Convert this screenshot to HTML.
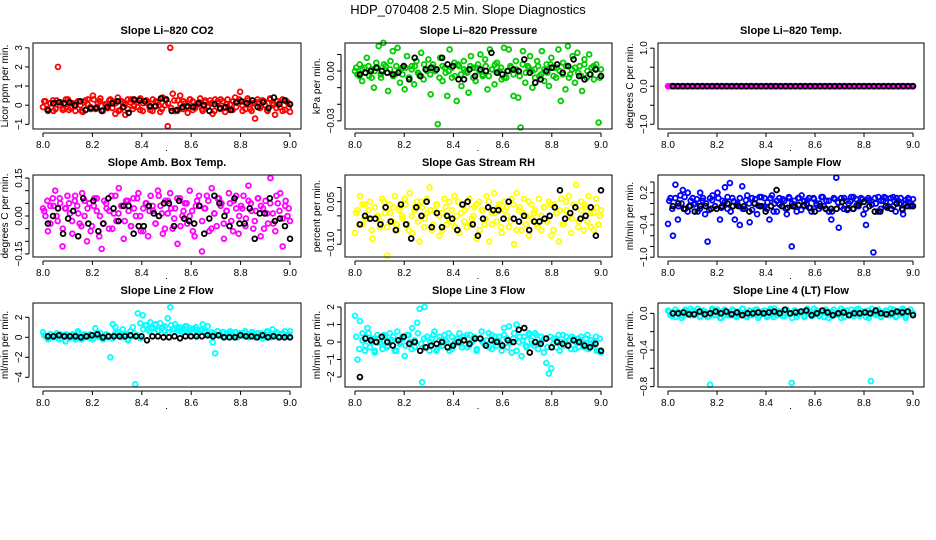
<!DOCTYPE html>
<html><head><meta charset="utf-8"><style>
html,body{margin:0;padding:0;background:#fff;}
svg{display:block;font-family:"Liberation Sans",sans-serif;}
</style></head><body>
<svg id="chart" width="936" height="540" viewBox="0 0 936 540">
<text x="468" y="14" text-anchor="middle" font-size="13">HDP_070408  2.5 Min. Slope Diagnostics</text>
</svg>
<script>
const xTicks=[8.0,8.2,8.4,8.6,8.8,9.0];
const co2Color=[-0.1,0.2,-0.3,0.1,0.25,-0.2,2.0,0.15,-0.25,0.05,0.3,-0.15,0.1,-0.3,0.2,0.0,-0.35,0.25,0.3,-0.1,0.5,-0.2,0.1,0.35,-0.3,0.05,-0.15,0.3,0.2,-0.45,0.4,-0.25,0.1,-0.5,0.3,0.15,-0.2,0.25,-0.1,0.35,-0.3,0.2,0.1,-0.25,0.3,-0.05,0.15,-0.35,0.4,0.0,-1.1,3.0,0.6,-0.3,0.25,0.5,-0.2,0.1,-0.4,0.3,0.2,-0.15,0.05,0.35,-0.3,0.15,-0.1,0.25,-0.45,0.3,0.1,-0.2,0.2,-0.35,0.3,0.05,-0.25,0.4,0.2,0.7,-0.3,0.15,0.35,-0.2,0.1,-0.7,0.3,-0.15,0.25,0.0,-0.3,0.35,0.1,-0.5,0.2,-0.1,0.3,-0.25,0.15,-0.35];
const co2Core=[0.2,-0.2,0.1,-0.3,0.25,0.0,-0.15,0.3,-0.25,0.1,-0.05,0.2,-0.3,0.15,0.05,-0.2,0.3,-0.1,0.2,-0.25,0.0,0.25,-0.15,0.1,-0.3,0.2,0.05,-0.2,0.3,-0.05,0.15,-0.25,0.1,0.25,-0.1,-0.3,0.2,0.0,-0.2,0.3,0.1,-0.15,0.25,-0.3,0.05,0.2,-0.1,0.3,-0.25,0.0,0.15,-0.2,0.25,-0.05,0.1,-0.3,0.2,0.3,-0.15,0.05,-0.25,0.2,-0.1,0.3,0.0,-0.2,0.25,-0.3,0.1,0.15,-0.05,0.2,-0.25,0.3,0.0,-0.15,0.1,-0.3,0.25,-0.1];
const co2Black=[-0.25,0.1,0.15,0.1,0.15,0.0,0.2,-0.25,-0.15,-0.15,-0.3,-0.1,0.1,0.2,-0.1,-0.4,0.3,0.25,0.2,-0.05,-0.05,0.35,0.3,-0.3,-0.25,-0.1,-0.05,-0.1,0.1,0.0,-0.3,0.05,-0.15,-0.1,-0.25,0.15,0.2,0.1,0.25,-0.1,0.15,-0.15,0.4,0.05,0.25,0.05];
const presColor=[0.0,-0.002,0.004,-0.006,0.002,0.008,-0.003,0.001,-0.01,0.005,0.015,-0.004,0.017,0.003,-0.012,0.006,0.012,-0.002,0.014,-0.007,0.002,-0.011,0.009,-0.004,0.003,-0.008,0.006,-0.002,0.011,-0.005,0.001,0.007,-0.014,0.004,0.0,-0.032,0.008,-0.006,0.002,-0.015,0.013,-0.004,0.005,-0.018,0.003,-0.009,0.006,0.0,-0.013,0.009,0.002,-0.006,0.004,0.01,-0.003,0.007,-0.011,0.013,0.001,-0.008,0.005,0.0,-0.005,0.014,-0.004,0.013,0.002,-0.015,0.006,-0.016,-0.034,0.012,-0.007,0.003,0.009,-0.01,0.001,0.006,-0.003,0.012,-0.006,0.004,-0.009,0.008,0.002,-0.004,0.013,-0.018,0.005,-0.011,0.015,-0.002,0.009,-0.007,0.011,0.003,-0.012,0.007,-0.004,0.01,0.002,-0.005,0.004,-0.031,0.001];
const presCore=[0.002,-0.003,0.001,-0.001,0.003,-0.004,0.0,0.002,-0.002,0.004,-0.001,0.001,-0.003,0.003,0.0,-0.002,0.002,-0.004,0.001,0.003,-0.001,-0.003,0.004,0.0,-0.002,0.002,0.001,-0.004,0.003,-0.001,0.0,0.002,-0.003,0.004,-0.002,0.001,-0.001,0.003,-0.004,0.002,0.0,-0.002,0.003,-0.003,0.001,0.004,-0.001,0.002,-0.004,0.0,0.003,-0.002,0.001,-0.003,0.004,-0.001,0.002,0.0,-0.004,0.003,-0.002,0.001,-0.001,0.004,-0.003,0.002,0.0,-0.002,0.003,-0.004,0.001,0.002,-0.001,-0.003,0.004,0.0,-0.002,0.003,0.001,-0.004];
const presBlack=[-0.002,-0.001,0.0,0.002,0.0,-0.001,-0.002,-0.001,0.003,-0.005,0.008,-0.003,0.001,0.002,0.001,0.008,0.004,0.003,-0.005,-0.005,0.001,-0.003,0.001,0.0,0.011,-0.001,-0.002,0.0,0.001,0.0,0.007,-0.001,-0.007,-0.005,0.0,0.002,0.004,-0.001,0.003,0.007,-0.003,-0.005,-0.002,0.001,-0.003];
const tempColor=[0,0,0,0,0,0,0,0,0,0,0,0,0,0,0,0,0,0,0,0,0,0,0,0,0,0,0,0,0,0,0,0,0,0,0,0,0,0,0,0,0,0,0,0,0,0,0,0,0,0,0,0,0,0,0,0,0,0,0,0,0,0,0,0,0,0,0,0,0,0,0,0,0,0,0,0,0,0,0,0,0,0,0,0,0,0,0,0,0,0,0,0,0,0,0,0,0,0,0,0];
const tempCore=[0,0,0,0,0,0,0,0,0,0,0,0,0,0,0,0,0,0,0,0,0,0,0,0,0,0,0,0,0,0,0,0,0,0,0,0,0,0,0,0,0,0,0,0,0,0,0,0,0,0,0,0,0,0,0,0,0,0,0,0,0,0,0,0,0,0,0,0,0,0,0,0,0,0,0,0,0,0,0,0];
const tempBlack=[0,0,0,0,0,0,0,0,0,0,0,0,0,0,0,0,0,0,0,0,0,0,0,0,0,0,0,0,0,0,0,0,0,0,0,0,0,0,0,0,0,0,0,0,0,0,0,0,0,0];
const ambColor=[0.03,0.0,-0.06,0.04,0.07,0.1,-0.02,0.05,-0.12,0.03,0.08,0.01,-0.07,0.06,0.04,-0.03,0.09,0.0,-0.1,0.05,-0.04,0.07,0.02,-0.08,-0.13,0.06,0.03,-0.05,0.08,0.01,-0.02,0.11,0.04,-0.09,0.06,0.02,-0.04,0.07,0.0,0.09,-0.06,0.03,0.05,-0.08,0.08,0.02,-0.03,0.1,0.04,-0.07,0.06,0.01,0.09,-0.05,0.03,-0.11,0.07,0.0,0.05,-0.03,0.1,0.02,-0.08,0.06,0.04,-0.14,0.03,0.08,-0.06,0.11,0.01,-0.04,0.07,0.05,-0.09,0.02,0.09,-0.02,0.06,0.03,-0.07,0.04,0.08,-0.01,0.12,0.05,-0.05,0.02,0.07,-0.08,0.03,0.06,-0.03,0.15,0.01,-0.06,0.05,0.09,-0.12,0.04,0.0,-0.02];
const ambCore=[0.02,0.06,-0.03,0.04,0.0,0.07,-0.05,0.03,0.05,-0.02,0.08,0.01,-0.04,0.06,0.03,-0.06,0.04,0.07,0.0,-0.03,0.05,0.02,-0.05,0.08,0.01,0.04,-0.02,0.06,-0.04,0.03,0.07,0.0,-0.06,0.05,0.02,0.04,-0.03,0.08,0.01,-0.05,0.06,0.03,-0.01,0.07,-0.04,0.02,0.05,0.0,-0.06,0.04,0.08,-0.02,0.03,0.06,-0.05,0.01,0.07,0.04,-0.03,0.02,0.05,-0.06,0.08,0.0,0.03,-0.04,0.06,0.02,-0.02,0.07,0.04,-0.05,0.01,0.05,-0.03,0.08,0.02,-0.01,0.06,0.03];
const ambBlack=[-0.03,0.0,0.03,-0.07,-0.01,0.02,-0.08,0.07,-0.03,0.06,-0.06,-0.03,0.07,0.03,-0.02,0.04,0.04,-0.07,-0.04,-0.04,0.04,0.01,0.0,0.05,0.05,-0.04,0.06,-0.01,-0.02,-0.03,0.04,-0.07,-0.01,0.08,0.05,0.0,-0.04,0.07,-0.03,-0.03,0.03,-0.09,0.01,0.01,0.07,-0.02,-0.01,-0.04,-0.09];
const rhColor=[-0.06,0.02,0.07,-0.03,0.04,-0.01,0.05,-0.08,0.03,0.0,-0.04,0.06,0.01,-0.14,0.04,-0.02,0.07,-0.05,0.03,0.0,0.06,-0.03,0.08,-0.06,0.02,0.05,-0.09,0.03,-0.01,0.06,0.1,-0.05,0.02,0.04,-0.07,0.01,0.06,-0.03,0.05,-0.02,0.07,0.0,-0.06,0.04,0.02,-0.04,0.06,-0.01,0.03,-0.08,0.05,0.02,-0.03,0.07,-0.09,0.01,0.08,-0.02,0.04,-0.06,0.05,0.03,-0.04,0.06,-0.1,0.08,0.02,-0.05,0.06,0.0,-0.07,0.04,0.01,-0.03,0.06,-0.05,0.03,-0.02,0.05,-0.07,0.04,0.01,-0.09,0.06,-0.03,0.02,0.07,-0.06,0.04,0.11,-0.02,0.05,-0.05,0.03,0.07,-0.04,0.01,0.06,-0.03,0.02];
const rhCore=[0.01,-0.03,0.04,-0.01,0.02,-0.05,0.03,0.0,-0.02,0.05,-0.04,0.01,0.03,-0.03,0.02,-0.01,0.04,-0.05,0.0,0.03,-0.02,0.05,-0.04,0.01,0.02,-0.03,0.04,0.0,-0.05,0.03,-0.01,0.02,-0.04,0.05,0.01,-0.02,0.03,-0.03,0.0,0.04,-0.05,0.02,-0.01,0.05,-0.03,0.01,0.03,-0.04,0.02,0.0,-0.02,0.04,-0.05,0.03,0.01,-0.03,0.05,-0.01,0.02,-0.04,0.0,0.03,-0.02,0.04,-0.05,0.01,0.02,-0.03,0.05,0.0,-0.01,0.03,-0.04,0.02,0.04,-0.02,0.01,-0.05,0.03,0.0];
const rhBlack=[-0.03,0.0,-0.01,-0.01,-0.03,0.03,-0.02,-0.05,0.04,-0.03,-0.08,0.03,0.0,0.05,-0.04,0.01,-0.04,0.0,-0.01,-0.05,0.04,0.05,-0.03,-0.07,-0.01,0.03,0.02,0.02,-0.01,0.05,-0.01,-0.02,0.0,-0.05,-0.02,-0.02,-0.01,0.0,0.03,0.09,-0.01,0.01,0.03,-0.01,0.0,0.03,-0.07,0.09];
const flowColor=[-0.38,0.1,-0.6,0.35,-0.3,0.15,0.25,-0.1,0.2,-0.05,0.1,0.0,-0.15,0.2,0.05,-0.2,-0.71,0.1,0.15,-0.05,0.2,-0.3,0.05,0.3,-0.1,0.38,0.1,-0.3,0.0,-0.4,0.32,-0.1,0.15,-0.35,0.1,0.0,-0.2,0.12,-0.05,0.1,-0.1,-0.3,0.15,0.0,-0.15,0.1,-0.05,0.05,-0.2,0.1,-0.8,0.05,-0.15,0.1,0.15,-0.05,0.0,0.1,-0.15,0.08,0.0,-0.1,0.12,-0.05,0.05,-0.15,-0.3,0.1,0.48,-0.45,0.1,-0.1,0.05,0.0,0.12,-0.1,0.08,-0.05,0.1,-0.2,-0.4,0.1,0.05,-0.91,0.0,0.12,-0.1,0.05,0.1,-0.05,0.1,0.12,-0.15,0.05,0.1,-0.2,0.0,0.1,-0.05,0.08];
const flowCore=[0.05,-0.1,0.1,-0.05,0.0,0.12,-0.15,0.05,-0.02,0.08,-0.1,0.1,0.0,-0.12,0.06,-0.05,0.1,-0.08,0.02,0.12,-0.15,0.04,-0.03,0.1,-0.1,0.06,0.0,-0.12,0.08,-0.04,0.12,-0.06,0.02,0.1,-0.15,0.05,-0.02,0.08,-0.1,0.12,0.0,-0.06,0.1,-0.12,0.04,0.06,-0.08,0.1,-0.03,0.0,0.12,-0.1,0.05,-0.15,0.08,0.02,-0.06,0.1,-0.12,0.04,0.12,-0.04,0.0,0.08,-0.1,0.06,-0.02,0.1,-0.15,0.05,0.12,-0.08,0.02,-0.05,0.1,0.0,-0.12,0.06,0.08,-0.03];
const flowBlack=[-0.05,0.0,-0.1,-0.05,-0.15,-0.05,-0.05,-0.1,-0.1,-0.05,0.0,-0.05,-0.05,-0.05,-0.15,0.0,-0.05,-0.15,-0.05,0.25,-0.05,-0.08,-0.05,-0.03,-0.03,-0.08,-0.15,-0.05,-0.1,-0.1,-0.1,0.03,-0.1,-0.1,-0.03,0.03,-0.05,-0.15,-0.15,-0.05,-0.1,0.0,-0.1,-0.05,-0.05];
const line2Color=[0.5,0.1,-0.2,0.3,0.0,0.2,-0.1,0.3,0.1,-0.4,0.2,0.0,0.3,-0.2,0.6,0.1,-0.1,0.2,0.0,0.3,-0.2,0.9,0.1,0.4,-0.1,0.2,0.0,-2.0,1.3,1.0,0.5,0.2,0.8,0.3,-0.3,0.6,1.0,-4.7,2.4,1.4,2.2,1.2,0.8,1.5,0.9,1.2,0.7,1.4,1.0,0.6,1.9,3.0,0.8,1.3,0.7,1.0,0.5,1.1,0.6,0.9,0.4,0.8,0.3,0.7,1.3,0.5,1.1,0.2,-0.5,-1.6,0.6,0.3,0.5,0.1,0.4,0.6,0.2,0.5,0.0,0.4,0.2,0.6,0.1,0.3,0.5,0.0,0.4,0.2,-0.1,0.3,0.5,0.1,0.8,0.2,0.4,0.0,0.3,0.6,0.1,0.6];
const line2Core=[0.2,-0.1,0.3,0.0,0.4,-0.2,0.1,0.3,-0.1,0.2,0.0,0.4,-0.2,0.3,0.1,-0.1,0.2,0.4,0.0,-0.2,0.3,0.1,-0.1,0.4,0.2,0.0,0.3,-0.2,0.1,0.4,0.2,-0.1,0.8,1.2,0.6,1.0,1.3,0.7,0.9,1.1,0.5,1.2,0.8,1.0,0.6,0.9,1.1,0.7,0.8,1.0,0.5,0.7,0.6,0.3,0.5,0.4,0.6,0.2,0.5,0.3,0.4,0.1,0.5,0.3,0.2,0.4,0.0,0.5,0.3,0.1,0.4,0.2,0.6,0.0,0.3,0.5,0.1,0.4,0.2,0.3];
const line2Black=[0.1,0.1,0.2,0.1,0.1,0.1,0.0,0.1,0.2,0.3,0.0,0.1,0.1,0.1,0.1,0.2,0.1,0.1,-0.3,0.1,0.1,0.0,0.0,0.1,-0.1,0.1,0.1,0.1,0.1,0.2,0.1,0.2,0.0,0.0,0.0,0.2,0.1,0.1,0.0,0.2,0.0,0.1,0.0,0.0,0.0];
const line3Color=[1.5,-1.0,1.2,0.5,-0.5,0.8,-0.3,0.2,-0.6,0.4,0.0,-0.4,0.3,-0.2,0.5,0.1,-0.5,0.6,-0.1,0.3,-0.8,0.4,0.0,0.8,-0.3,1.1,1.9,-2.3,2.0,0.3,-0.5,0.2,0.6,-0.4,0.1,-0.2,0.4,0.0,-0.5,0.3,-0.1,0.2,0.5,-0.3,0.1,0.4,-0.2,0.0,0.3,-0.4,0.2,0.6,-0.1,0.1,-0.3,0.4,0.0,-0.2,0.3,-0.5,0.8,0.2,0.9,-0.6,0.5,1.0,0.0,-0.8,0.3,-0.3,0.5,0.1,-0.2,0.4,-0.1,0.3,-0.6,-1.2,-1.8,-1.5,0.2,-0.3,0.4,0.0,-0.2,0.3,0.1,-0.4,0.2,0.0,-0.3,0.3,-0.1,0.2,-0.4,0.1,-0.2,0.3,-0.5,-0.6];
const line3Core=[0.3,-0.4,0.1,-0.2,0.5,0.0,-0.5,0.2,-0.1,0.4,-0.3,0.1,0.3,-0.5,0.0,0.2,-0.2,0.4,-0.4,0.1,0.5,-0.1,0.2,-0.3,0.0,0.4,-0.5,0.3,-0.2,0.1,0.5,-0.4,0.0,0.2,-0.1,0.3,-0.3,0.4,0.1,-0.5,0.2,0.0,-0.2,0.5,-0.4,0.3,0.1,-0.1,0.4,-0.3,0.0,0.2,-0.5,0.3,0.1,-0.2,0.4,-0.1,0.5,-0.4,0.0,0.2,-0.3,0.3,-0.1,0.1,-0.5,0.4,0.0,-0.2,0.3,-0.4,0.2,0.1,-0.3,0.4,-0.1,0.0,-0.5,0.2];
const line3Black=[-2.0,0.2,0.1,0.0,0.3,0.0,-0.2,0.1,0.3,-0.1,0.0,-0.5,-0.3,-0.2,-0.1,0.0,-0.3,-0.2,0.0,0.1,-0.1,0.2,0.2,-0.2,0.1,0.0,-0.2,0.1,0.0,0.7,0.8,-0.6,0.0,-0.1,0.2,-0.3,0.0,-0.1,-0.2,0.1,0.0,-0.2,-0.3,-0.1,-0.5];
const line4Color=[0.03,-0.02,0.01,-0.04,0.02,0.0,-0.03,0.04,0.01,-0.02,0.03,-0.01,0.05,-0.03,0.0,0.02,-0.04,-0.78,0.03,-0.02,0.04,-0.05,0.01,0.03,-0.02,0.0,0.04,-0.03,0.02,-0.01,0.05,0.0,-0.04,0.03,-0.02,0.01,0.04,-0.03,0.02,0.0,-0.04,0.03,-0.01,0.05,-0.02,0.02,0.0,-0.03,0.04,-0.01,-0.76,0.03,-0.04,0.01,0.02,-0.02,0.04,0.0,-0.03,0.05,0.01,-0.02,0.03,-0.04,0.02,0.0,-0.03,0.04,-0.01,0.02,-0.05,0.03,0.0,-0.02,0.04,-0.03,0.01,0.05,-0.01,0.02,-0.04,0.03,-0.74,0.0,-0.02,0.04,-0.03,0.01,0.03,-0.02,0.05,0.0,-0.04,0.02,-0.01,0.03,-0.03,0.01,0.04,0.0];
const line4Core=[0.02,-0.03,0.04,0.0,-0.05,0.03,-0.01,0.05,-0.02,0.01,-0.04,0.03,0.0,-0.03,0.05,-0.01,0.02,-0.05,0.04,0.0,-0.02,0.03,-0.04,0.01,0.05,-0.03,0.02,-0.01,0.04,-0.05,0.0,0.03,-0.02,0.05,-0.04,0.01,0.02,-0.03,0.04,0.0,-0.05,0.03,-0.01,0.02,-0.04,0.05,0.0,-0.02,0.03,-0.03,0.01,0.04,-0.05,0.02,0.0,-0.01,0.05,-0.04,0.03,-0.02,0.01,0.04,-0.03,0.0,0.02,-0.05,0.05,-0.01,0.03,-0.04,0.0,0.02,-0.02,0.04,-0.03,0.01,0.05,-0.05,0.02,0.0];
const line4Black=[0.0,0.0,0.01,-0.01,-0.01,0.02,-0.01,0.0,0.02,0.0,0.02,-0.01,0.01,-0.02,0.0,0.0,0.01,0.0,0.01,0.02,0.0,0.04,0.0,0.01,0.02,0.03,-0.02,0.0,0.03,0.01,-0.02,0.0,0.01,-0.02,0.0,0.0,0.01,0.0,0.03,0.0,-0.01,0.0,0.02,0.01,0.02,-0.02];

const panels=[
 {name:'co2',title:'Slope Li\u2013820 CO2',ylab:'Licor ppm per min.',col:'#ff0000',c:co2Color,cc:co2Core,b:co2Black,ylim:[-1.245,3.25],ticks:[-1,0,1,2,3],labels:['\u22121','0','1','2','3'],r:0,k:0},
 {name:'pressure',title:'Slope Li\u2013820 Pressure',ylab:'kPa per min.',col:'#00cc00',c:presColor,cc:presCore,b:presBlack,ylim:[-0.0349,0.0169],ticks:[-0.03,-0.02,-0.01,0,0.01],labels:['\u22120.03','','','0.00',''],r:0,k:1},
 {name:'li820-temp',title:'Slope Li\u2013820 Temp.',ylab:'degrees C per min.',col:'#ff00ff',c:tempColor,cc:tempCore,b:tempBlack,ylim:[-1.124,1.136],ticks:[-1,-0.5,0,0.5,1],labels:['\u22121.0','','0.0','','1.0'],r:0,k:2},
 {name:'amb-box-temp',title:'Slope Amb. Box Temp.',ylab:'degrees C per min.',col:'#ff00ff',c:ambColor,cc:ambCore,b:ambBlack,ylim:[-0.162,0.162],ticks:[-0.15,-0.1,-0.05,0,0.05,0.1,0.15],labels:['\u22120.15','','','0.00','','','0.15'],r:1,k:0},
 {name:'gas-stream-rh',title:'Slope Gas Stream RH',ylab:'percent per min.',col:'#ffff00',c:rhColor,cc:rhCore,b:rhBlack,ylim:[-0.145,0.144],ticks:[-0.1,-0.05,0,0.05,0.1],labels:['\u22120.10','','','0.05',''],r:1,k:1},
 {name:'sample-flow',title:'Slope Sample Flow',ylab:'ml/min per min.',col:'#0000ff',c:flowColor,cc:flowCore,b:flowBlack,ylim:[-0.996,0.53],ticks:[-1,-0.8,-0.6,-0.4,-0.2,0,0.2,0.4],labels:['\u22121.0','','','\u22120.4','','','0.2',''],r:1,k:2},
 {name:'line2-flow',title:'Slope Line 2 Flow',ylab:'ml/min per min.',col:'#00ffff',c:line2Color,cc:line2Core,b:line2Black,ylim:[-4.97,3.43],ticks:[-4,-2,0,2],labels:['\u22124','\u22122','0','2'],r:2,k:0},
 {name:'line3-flow',title:'Slope Line 3 Flow',ylab:'ml/min per min.',col:'#00ffff',c:line3Color,cc:line3Core,b:line3Black,ylim:[-2.57,2.23],ticks:[-2,-1,0,1,2],labels:['\u22122','\u22121','0','1','2'],r:2,k:1},
 {name:'line4-flow',title:'Slope Line 4 (LT) Flow',ylab:'ml/min per min.',col:'#00ffff',c:line4Color,cc:line4Core,b:line4Black,ylim:[-0.804,0.113],ticks:[-0.8,-0.6,-0.4,-0.2,0],labels:['\u22120.8','','\u22120.4','','0.0'],r:2,k:2}
];
const NS='http://www.w3.org/2000/svg';
const svg=document.getElementById('chart');
const colL=[33,345,658], colR=[301,612,924];
const rowT=[43,175,303], rowB=[129,257,387];
function mk(tag,attrs,parent){const e=document.createElementNS(NS,tag);for(const k in attrs)e.setAttribute(k,attrs[k]);parent.appendChild(e);return e;}
panels.forEach(p=>{
  const L=colL[p.k],R=colR[p.k],T=rowT[p.r],B=rowB[p.r];
  const x0=L+10,x1=R-11;
  const xs=v=>x0+(v-8)*(x1-x0);
  const ys=v=>B-(v-p.ylim[0])/(p.ylim[1]-p.ylim[0])*(B-T);
  const g=mk('g',{},svg);
  
  
  const t=mk('text',{x:(L+R)/2,y:T-9,'text-anchor':'middle','font-size':11,'font-weight':'bold'},g);
  t.textContent=p.title;
  
  
  const pts=mk('g',{fill:'none','stroke-width':1.8},g);
  
  
  const nc=p.cc.length;
  p.cc.forEach((v,i)=>{
    const c=mk('circle',{cx:xs(8.005+0.99*i/(nc-1)),cy:ys(v),r:2.4,stroke:p.col},pts);
    
    
  });
  const n=p.c.length;
  p.c.forEach((v,i)=>{
    const c=mk('circle',{cx:xs(8+i/(n-1)),cy:ys(v),r:2.4,stroke:p.col},pts);
    
    
  });
  const m=p.b.length;
  p.b.forEach((v,i)=>{
    const c=mk('circle',{cx:xs(8.02+0.98*i/(m-1)),cy:ys(v),r:2.4,stroke:'#000'},pts);
    
    
  });
  const box=mk('rect',{x:L,y:T,width:R-L,height:B-T,fill:'none',stroke:'#000','stroke-width':1},g);
  
  
  const xa=mk('g',{stroke:'#000','stroke-width':1},g);
  
  
  mk('line',{x1:xs(8),x2:xs(9),y1:B+4,y2:B+4},xa);
  xTicks.forEach(v=>{
    mk('line',{x1:xs(v),x2:xs(v),y1:B+4,y2:B+8},xa);
    const tl=mk('text',{x:xs(v),y:B+19,'text-anchor':'middle','font-size':10,stroke:'none'},xa);
    tl.textContent=v.toFixed(1);
    
    
  });
  const ya=mk('g',{stroke:'#000','stroke-width':1},g);
  
  
  mk('line',{x1:L-4,x2:L-4,y1:ys(p.ticks[0]),y2:ys(p.ticks[p.ticks.length-1])},ya);
  p.ticks.forEach((v,i)=>{
    const y=ys(v);
    mk('line',{x1:L-4,x2:L-8,y1:y,y2:y},ya);
    if(p.labels[i]){
      const tl=mk('text',{x:L-11,y:y,'text-anchor':'middle','font-size':10,stroke:'none',transform:`rotate(-90 ${L-11} ${y})`},ya);
      tl.textContent=p.labels[i];
      
      
    }
  });
  const cy=(T+B)/2, lx=L-25;
  const yl=mk('text',{x:lx,y:cy,'text-anchor':'middle','font-size':10,transform:`rotate(-90 ${lx} ${cy})`},g);
  yl.textContent=p.ylab;
  
  
  const dot=mk('rect',{x:(L+R)/2-1,y:B+21,width:1,height:1,fill:'#000'},g);
  
  
});
</script>
</body></html>
